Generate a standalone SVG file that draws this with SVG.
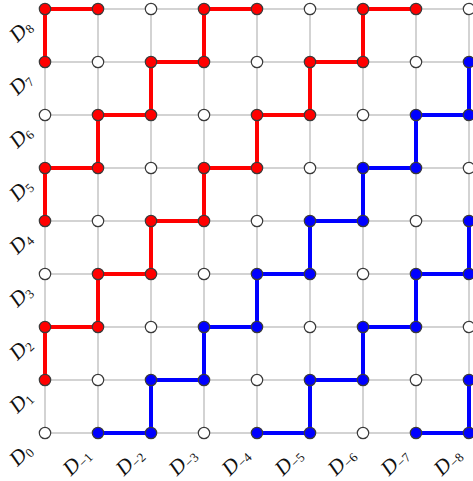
<svg xmlns="http://www.w3.org/2000/svg" width="473" height="481" viewBox="0 0 473 481">
<style>
.grid line{stroke:#c4c4c4;stroke-width:1.5}
.red{fill:none;stroke:#ff0000;stroke-width:4;stroke-linejoin:miter}
.blue{fill:none;stroke:#0000ff;stroke-width:4;stroke-linejoin:miter}
circle{stroke:#3a3a3a;stroke-width:1.2}
.nr{fill:#ff0000}.nb{fill:#0000ff}.nw{fill:#ffffff}
.lbl{font-family:"Liberation Serif",serif;font-style:italic;font-size:21px;fill:#111}
.sub{font-size:13px;font-style:normal}
</style>
<rect width="473" height="481" fill="#ffffff"/>
<g class="grid">
<line x1="45" y1="9" x2="480" y2="9"/><line x1="45" y1="62" x2="480" y2="62"/><line x1="45" y1="115" x2="480" y2="115"/><line x1="45" y1="168" x2="480" y2="168"/><line x1="45" y1="221" x2="480" y2="221"/><line x1="45" y1="274" x2="480" y2="274"/><line x1="45" y1="327" x2="480" y2="327"/><line x1="45" y1="380" x2="480" y2="380"/><line x1="45" y1="433" x2="480" y2="433"/>
<line x1="45" y1="9" x2="45" y2="433"/><line x1="98" y1="9" x2="98" y2="433"/><line x1="151" y1="9" x2="151" y2="433"/><line x1="204" y1="9" x2="204" y2="433"/><line x1="257" y1="9" x2="257" y2="433"/><line x1="310" y1="9" x2="310" y2="433"/><line x1="363" y1="9" x2="363" y2="433"/><line x1="416" y1="9" x2="416" y2="433"/><line x1="469" y1="9" x2="469" y2="433"/>
</g>
<g id="connectors">
<polyline class="red" points="45,380 45,327 98,327 98,274 151,274 151,221 204,221 204,168 257,168 257,115 310,115 310,62 363,62 363,9 416,9"/>
<polyline class="red" points="45,221 45,168 98,168 98,115 151,115 151,62 204,62 204,9 257,9"/>
<polyline class="red" points="45,62 45,9 98,9"/>
<polyline class="blue" points="98,433 151,433 151,380 204,380 204,327 257,327 257,274 310,274 310,221 363,221 363,168 416,168 416,115 469,115 469,62"/>
<polyline class="blue" points="257,433 310,433 310,380 363,380 363,327 416,327 416,274 469,274 469,221"/>
<polyline class="blue" points="416,433 469,433 469,380"/>
</g>
<g id="nodes">
<g id="row8"><circle class="nr" cx="45" cy="9" r="5.7"/><circle class="nr" cx="98" cy="9" r="5.7"/><circle class="nw" cx="151" cy="9" r="5.7"/><circle class="nr" cx="204" cy="9" r="5.7"/><circle class="nr" cx="257" cy="9" r="5.7"/><circle class="nw" cx="310" cy="9" r="5.7"/><circle class="nr" cx="363" cy="9" r="5.7"/><circle class="nr" cx="416" cy="9" r="5.7"/><circle class="nw" cx="469" cy="9" r="5.7"/></g>
<g id="row7"><circle class="nr" cx="45" cy="62" r="5.7"/><circle class="nw" cx="98" cy="62" r="5.7"/><circle class="nr" cx="151" cy="62" r="5.7"/><circle class="nr" cx="204" cy="62" r="5.7"/><circle class="nw" cx="257" cy="62" r="5.7"/><circle class="nr" cx="310" cy="62" r="5.7"/><circle class="nr" cx="363" cy="62" r="5.7"/><circle class="nw" cx="416" cy="62" r="5.7"/><circle class="nb" cx="469" cy="62" r="5.7"/></g>
<g id="row6"><circle class="nw" cx="45" cy="115" r="5.7"/><circle class="nr" cx="98" cy="115" r="5.7"/><circle class="nr" cx="151" cy="115" r="5.7"/><circle class="nw" cx="204" cy="115" r="5.7"/><circle class="nr" cx="257" cy="115" r="5.7"/><circle class="nr" cx="310" cy="115" r="5.7"/><circle class="nw" cx="363" cy="115" r="5.7"/><circle class="nb" cx="416" cy="115" r="5.7"/><circle class="nb" cx="469" cy="115" r="5.7"/></g>
<g id="row5"><circle class="nr" cx="45" cy="168" r="5.7"/><circle class="nr" cx="98" cy="168" r="5.7"/><circle class="nw" cx="151" cy="168" r="5.7"/><circle class="nr" cx="204" cy="168" r="5.7"/><circle class="nr" cx="257" cy="168" r="5.7"/><circle class="nw" cx="310" cy="168" r="5.7"/><circle class="nb" cx="363" cy="168" r="5.7"/><circle class="nb" cx="416" cy="168" r="5.7"/><circle class="nw" cx="469" cy="168" r="5.7"/></g>
<g id="row4"><circle class="nr" cx="45" cy="221" r="5.7"/><circle class="nw" cx="98" cy="221" r="5.7"/><circle class="nr" cx="151" cy="221" r="5.7"/><circle class="nr" cx="204" cy="221" r="5.7"/><circle class="nw" cx="257" cy="221" r="5.7"/><circle class="nb" cx="310" cy="221" r="5.7"/><circle class="nb" cx="363" cy="221" r="5.7"/><circle class="nw" cx="416" cy="221" r="5.7"/><circle class="nb" cx="469" cy="221" r="5.7"/></g>
<g id="row3"><circle class="nw" cx="45" cy="274" r="5.7"/><circle class="nr" cx="98" cy="274" r="5.7"/><circle class="nr" cx="151" cy="274" r="5.7"/><circle class="nw" cx="204" cy="274" r="5.7"/><circle class="nb" cx="257" cy="274" r="5.7"/><circle class="nb" cx="310" cy="274" r="5.7"/><circle class="nw" cx="363" cy="274" r="5.7"/><circle class="nb" cx="416" cy="274" r="5.7"/><circle class="nb" cx="469" cy="274" r="5.7"/></g>
<g id="row2"><circle class="nr" cx="45" cy="327" r="5.7"/><circle class="nr" cx="98" cy="327" r="5.7"/><circle class="nw" cx="151" cy="327" r="5.7"/><circle class="nb" cx="204" cy="327" r="5.7"/><circle class="nb" cx="257" cy="327" r="5.7"/><circle class="nw" cx="310" cy="327" r="5.7"/><circle class="nb" cx="363" cy="327" r="5.7"/><circle class="nb" cx="416" cy="327" r="5.7"/><circle class="nw" cx="469" cy="327" r="5.7"/></g>
<g id="row1"><circle class="nr" cx="45" cy="380" r="5.7"/><circle class="nw" cx="98" cy="380" r="5.7"/><circle class="nb" cx="151" cy="380" r="5.7"/><circle class="nb" cx="204" cy="380" r="5.7"/><circle class="nw" cx="257" cy="380" r="5.7"/><circle class="nb" cx="310" cy="380" r="5.7"/><circle class="nb" cx="363" cy="380" r="5.7"/><circle class="nw" cx="416" cy="380" r="5.7"/><circle class="nb" cx="469" cy="380" r="5.7"/></g>
<g id="row0"><circle class="nw" cx="45" cy="433" r="5.7"/><circle class="nb" cx="98" cy="433" r="5.7"/><circle class="nb" cx="151" cy="433" r="5.7"/><circle class="nw" cx="204" cy="433" r="5.7"/><circle class="nb" cx="257" cy="433" r="5.7"/><circle class="nb" cx="310" cy="433" r="5.7"/><circle class="nw" cx="363" cy="433" r="5.7"/><circle class="nb" cx="416" cy="433" r="5.7"/><circle class="nb" cx="469" cy="433" r="5.7"/></g>
</g>
<g id="labels" class="lbl" text-anchor="middle">
<text transform="translate(21,31) rotate(-45)" y="6">D<tspan class="sub" dy="3">8</tspan></text>
<text transform="translate(21,84) rotate(-45)" y="6">D<tspan class="sub" dy="3">7</tspan></text>
<text transform="translate(21,137) rotate(-45)" y="6">D<tspan class="sub" dy="3">6</tspan></text>
<text transform="translate(21,190) rotate(-45)" y="6">D<tspan class="sub" dy="3">5</tspan></text>
<text transform="translate(21,243) rotate(-45)" y="6">D<tspan class="sub" dy="3">4</tspan></text>
<text transform="translate(21,296) rotate(-45)" y="6">D<tspan class="sub" dy="3">3</tspan></text>
<text transform="translate(21,349) rotate(-45)" y="6">D<tspan class="sub" dy="3">2</tspan></text>
<text transform="translate(21,402) rotate(-45)" y="6">D<tspan class="sub" dy="3">1</tspan></text>
<text transform="translate(21,455) rotate(-45)" y="6">D<tspan class="sub" dy="3">0</tspan></text>
<text transform="translate(77,462) rotate(-45)" y="6">D<tspan class="sub" dy="3">−1</tspan></text>
<text transform="translate(130,462) rotate(-45)" y="6">D<tspan class="sub" dy="3">−2</tspan></text>
<text transform="translate(183,462) rotate(-45)" y="6">D<tspan class="sub" dy="3">−3</tspan></text>
<text transform="translate(236,462) rotate(-45)" y="6">D<tspan class="sub" dy="3">−4</tspan></text>
<text transform="translate(289,462) rotate(-45)" y="6">D<tspan class="sub" dy="3">−5</tspan></text>
<text transform="translate(342,462) rotate(-45)" y="6">D<tspan class="sub" dy="3">−6</tspan></text>
<text transform="translate(395,462) rotate(-45)" y="6">D<tspan class="sub" dy="3">−7</tspan></text>
<text transform="translate(448,462) rotate(-45)" y="6">D<tspan class="sub" dy="3">−8</tspan></text>
</g>
</svg>
